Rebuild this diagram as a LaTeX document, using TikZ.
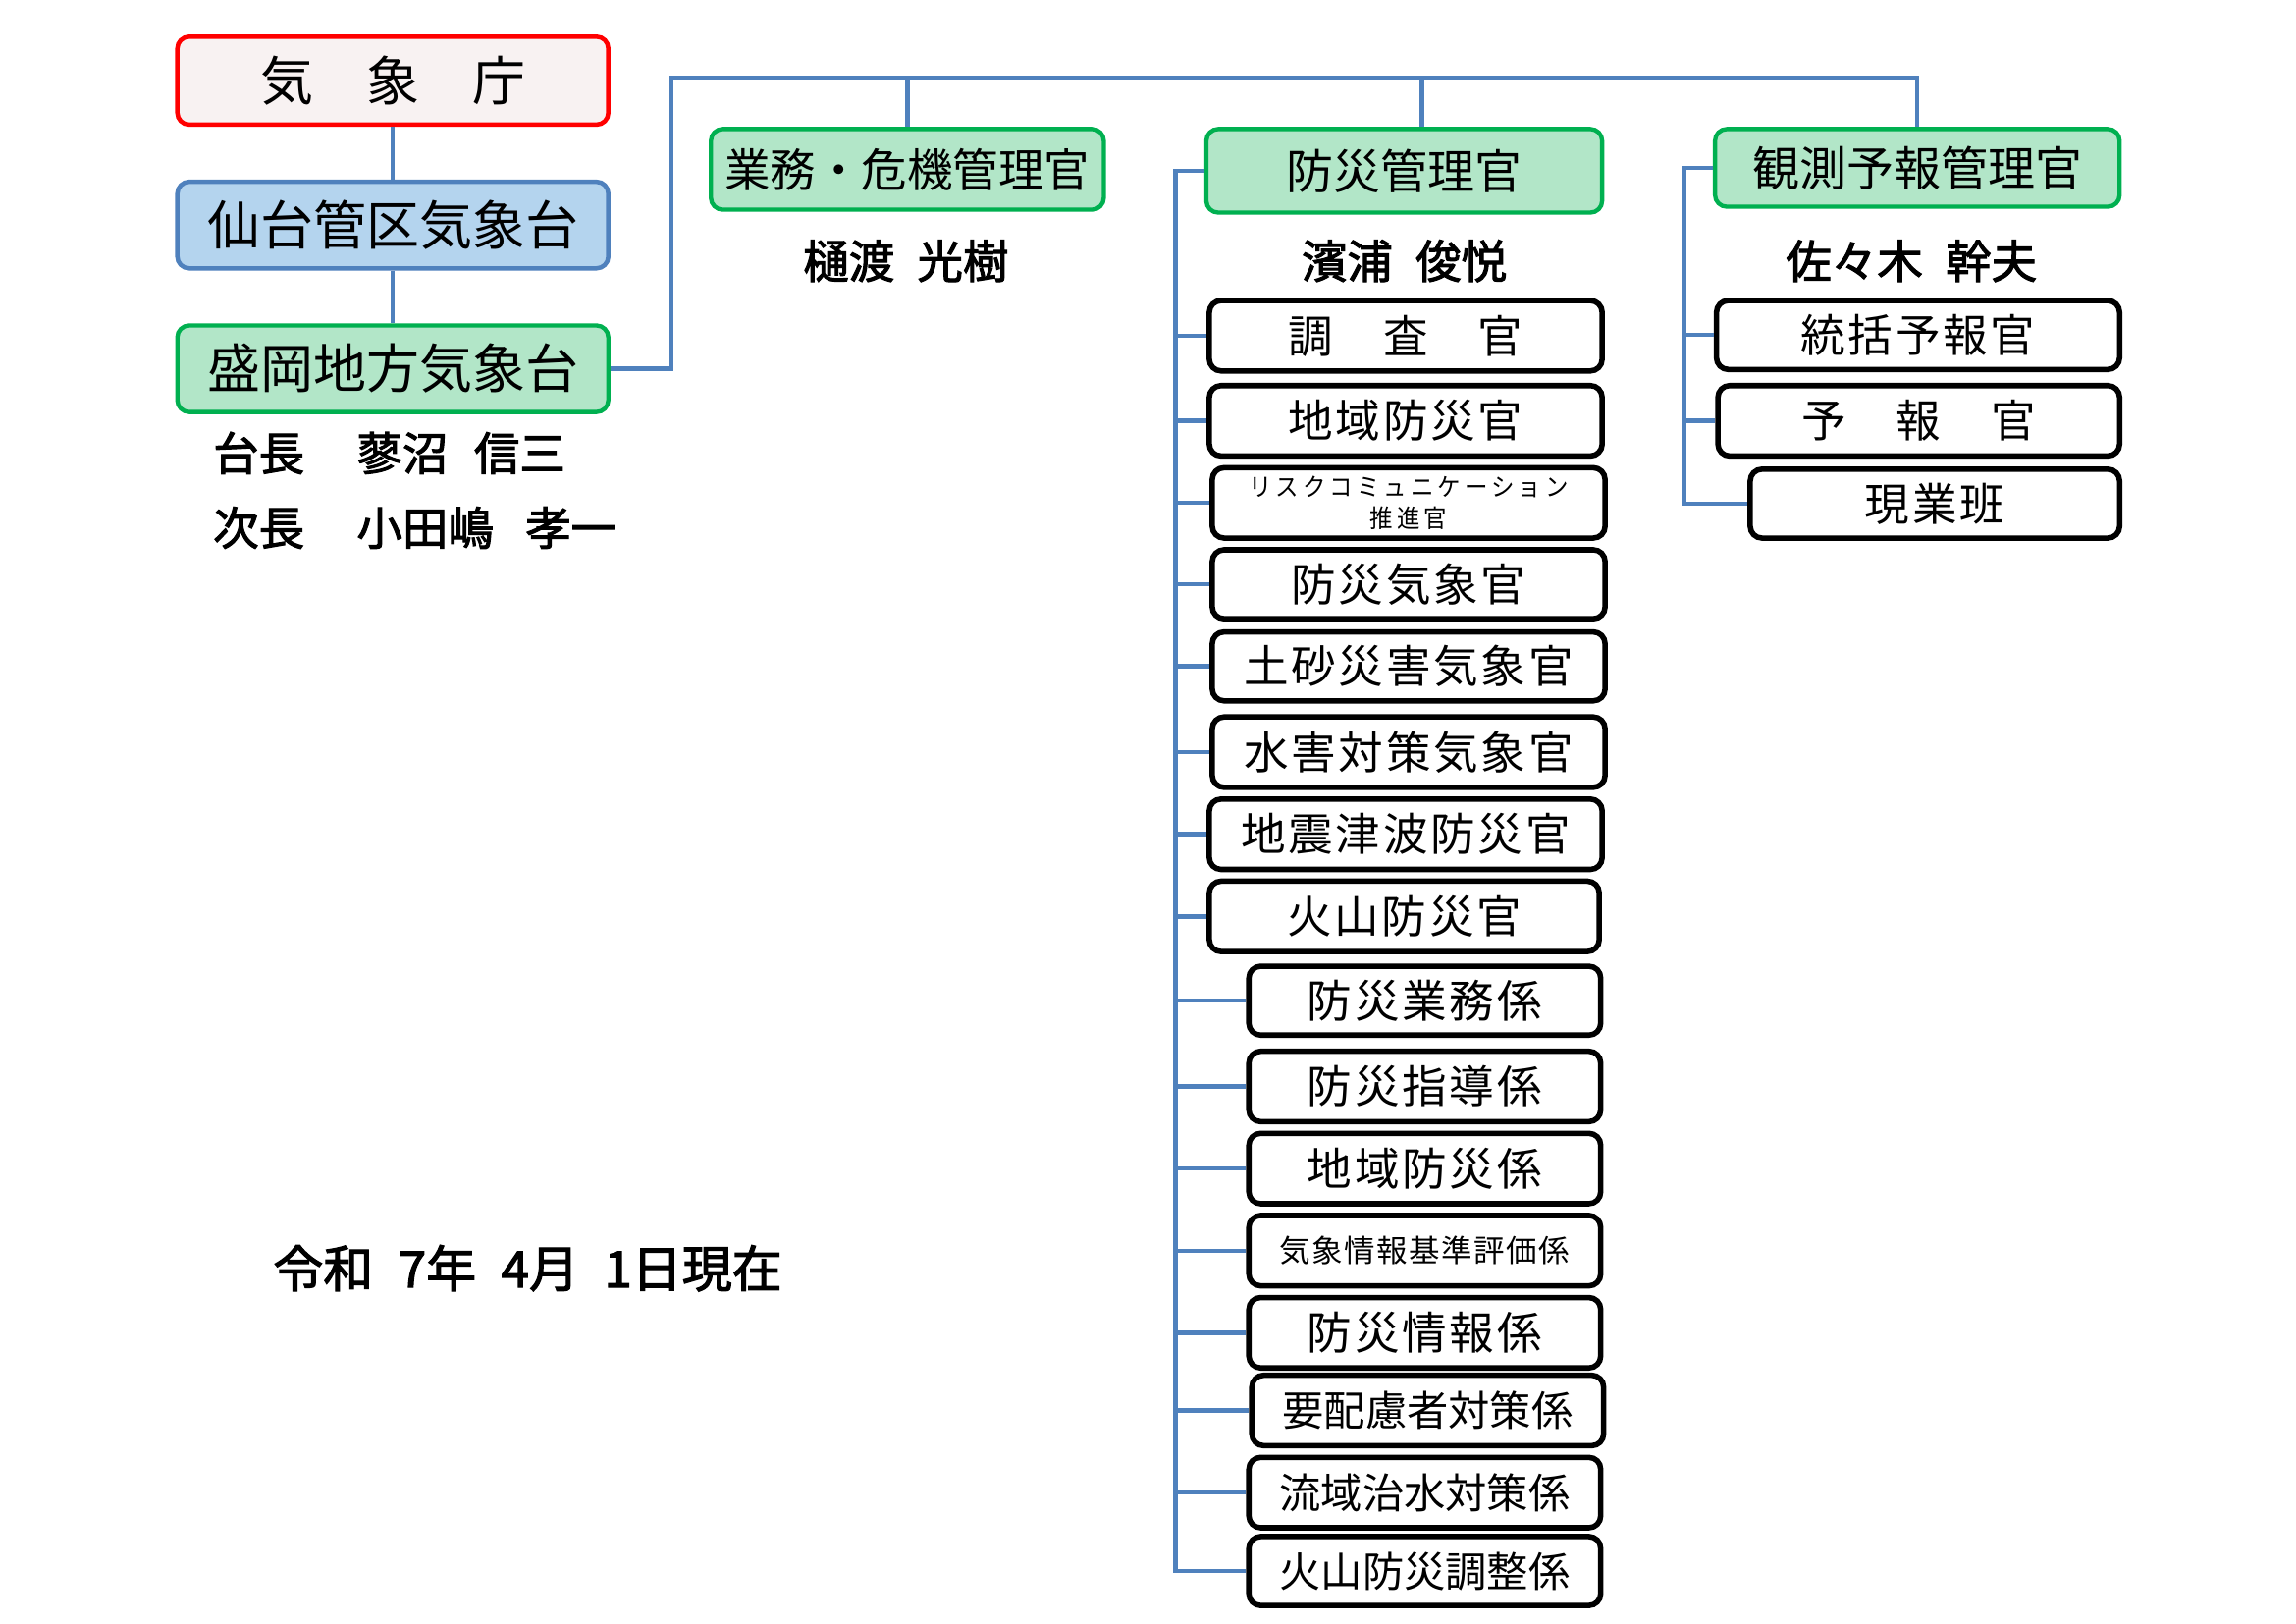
\documentclass[tikz,border=0pt]{standalone}
\usepackage{fontspec}
\newfontfamily\jp{Noto Sans CJK JP}
\newfontfamily\jpw{Noto Sans CJK JP}[LetterSpace=6]
\newfontfamily\jpk{Noto Sans CJK JP}[FakeStretch=0.92, LetterSpace=16]
\newfontfamily\jpm{Noto Sans CJK JP}[LetterSpace=5]
\newfontfamily\jpb{Noto Sans CJK JP}[FakeBold=2.2]
\definecolor{jmared}{HTML}{FF0000}
\definecolor{jmapink}{HTML}{F8F2F2}
\definecolor{jmablue}{HTML}{4F81BD}
\definecolor{jmalightblue}{HTML}{B4D4EE}
\definecolor{jmagreen}{HTML}{00B050}
\definecolor{jmalightgreen}{HTML}{B2E6C8}
\newcommand\jfA{\jp\fontsize{18}{22}\selectfont}
\newcommand\jfB{\jp\fontsize{16}{20}\selectfont}
\newcommand\jfW{\jpw\fontsize{15.2}{18}\selectfont}
\newcommand\jfN{\jp\fontsize{14.1}{17}\selectfont}
\newcommand\jfM{\jpm\fontsize{10.5}{12}\selectfont}
\newcommand\jfK{\jpk\fontsize{8.5}{10.6}\selectfont}
\newcommand\jfP{\jpb\fontsize{15.5}{18}\selectfont}
\newcommand\jfD{\jpb\fontsize{17}{20}\selectfont}
\newcommand\mkbox[7]{\node[#1, minimum width={(#5-#3)*0.49775pt}, minimum height={(#6-#4)*0.49775pt}] (#2) at ({(#3+#5)/2},{(#4+#6)/2}) {#7};}
\begin{document}
\begin{tikzpicture}[x=0.49775pt,y=-0.49775pt,
  base/.style={rounded corners=4pt, inner sep=0pt, align=center},
  redbox/.style={base, draw=jmared, fill=jmapink, line width=1.5pt, font=\jfA},
  bluebox/.style={base, draw=jmablue, fill=jmalightblue, line width=1.5pt, font=\jfA},
  greenbox/.style={base, draw=jmagreen, fill=jmalightgreen, line width=1.45pt, font=\jfB},
  blackbox/.style={base, draw=black, fill=white, line width=1.85pt, font=\jfW},
  conn/.style={draw=jmablue, line width=1.5pt},
  person/.style={inner sep=0pt, font=\jfP},
  personw/.style={person, anchor=west}]
\fill[white] (0pt,0pt) rectangle (779.67pt,-551.33pt);
\useasboundingbox (0pt,0pt) rectangle (779.67pt,-551.33pt);

% top-left hierarchy
\mkbox{redbox}{kisho}{121}{25}{415}{85}{気　象　庁}
\mkbox{bluebox}{sendai}{121}{124}{415}{183}{仙台管区気象台}
\mkbox{greenbox, font=\jfA}{morioka}{121}{222}{415}{281}{盛岡地方気象台}

\node[personw] (dc1) at (145,309) {台長};
\node[personw] (dn1) at (243,309) {蓼沼};
\node[personw] (dg1) at (323,309) {信三};
\node[personw] (dc2) at (145,360) {次長};
\node[personw] (dn2) at (243,360) {小田嶋};
\node[personw] (dg2) at (358,360) {孝一};

\node[inner sep=0pt, font=\jfD] (date) at (360,865) {令和\hspace{.5em}7年\hspace{.5em}4月\hspace{.5em}1日現在};

% managers
\mkbox{greenbox, font=\jp\fontsize{15.5}{19}\selectfont}{gyomu}{485}{88}{753}{143}{業務・危機管理官}
\mkbox{greenbox}{bousai}{823}{88}{1093}{145}{防災管理官}
\mkbox{greenbox}{kansoku}{1170}{88}{1446}{141}{観測予報管理官}

\node[person] (pg) at (618,178) {樋渡\hspace{.5em}光樹};
\node[person] (pb) at (958,178) {濱浦\hspace{.5em}俊悦};
\node[person] (pk) at (1304,178) {佐々木\hspace{.5em}幹夫};

% 防災管理官 column
\mkbox{blackbox}{k1}{825}{205}{1093}{253}{調　査　官}
\mkbox{blackbox}{k2}{825}{263}{1093}{311}{地域防災官}
\mkbox{blackbox, font=\jfK}{k3}{827}{319}{1095}{367}{リスクコミュニケーション\\推進官}
\mkbox{blackbox}{k4}{827}{375}{1095}{422}{防災気象官}
\mkbox{blackbox}{k5}{827}{431}{1095}{478}{土砂災害気象官}
\mkbox{blackbox}{k6}{827}{489}{1095}{537}{水害対策気象官}
\mkbox{blackbox}{k7}{825}{545}{1093}{593}{地震津波防災官}
\mkbox{blackbox}{k8}{825}{601}{1091}{649}{火山防災官}
\mkbox{blackbox}{k9}{852}{659}{1092}{706}{防災業務係}
\mkbox{blackbox}{k10}{852}{717}{1092}{765}{防災指導係}
\mkbox{blackbox}{k11}{852}{773}{1092}{821}{地域防災係}
\mkbox{blackbox, font=\jfM}{k12}{852}{829}{1092}{877}{気象情報基準評価係}
\mkbox{blackbox}{k13}{852}{885}{1092}{933}{防災情報係}
\mkbox{blackbox, font=\jfN}{k14}{854}{938}{1094}{986}{要配慮者対策係}
\mkbox{blackbox, font=\jfN}{k15}{852}{994}{1092}{1042}{流域治水対策係}
\mkbox{blackbox, font=\jfN}{k16}{852}{1048}{1092}{1095}{火山防災調整係}

% 観測予報管理官 column
\mkbox{blackbox}{r1}{1171}{205}{1446}{252}{統括予報官}
\mkbox{blackbox}{r2}{1172}{263}{1446}{311}{予　報　官}
\mkbox{blackbox}{r3}{1194}{320}{1446}{367}{現業班}

% connectors
\coordinate (bus) at (458,53);
\coordinate (lt) at (802,117);
\coordinate (rt) at (1149,117);
\draw[conn] (kisho.south) -- (sendai.north);
\draw[conn] (sendai.south) -- (morioka.north);
\draw[conn] (morioka.east) -| (bus) -- (kansoku.north |- bus) -- (kansoku.north);
\draw[conn] (gyomu.north |- bus) -- (gyomu.north);
\draw[conn] ([xshift=6pt]bousai.north |- bus) -- ([xshift=6pt]bousai.north);
\draw[conn] (bousai.west) -- (bousai.west -| lt) -- (k16.west -| lt) -- (k16.west);
\foreach \n in {k1,k2,k3,k4,k5,k6,k7,k8,k9,k10,k11,k12,k13,k14,k15}
  \draw[conn] (\n.west -| lt) -- (\n.west);
\draw[conn] (kansoku.west) -- (kansoku.west -| rt) -- (r3.west -| rt) -- (r3.west);
\foreach \n in {r1,r2}
  \draw[conn] (\n.west -| rt) -- (\n.west);
\end{tikzpicture}
\end{document}
